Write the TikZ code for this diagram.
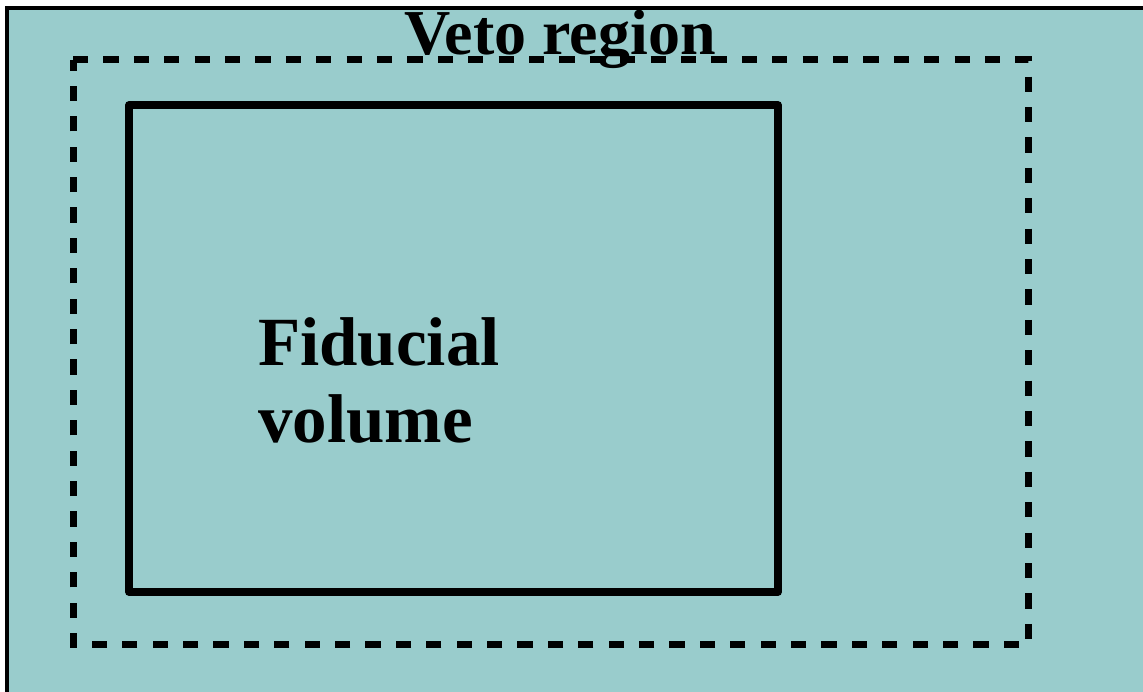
\documentclass[tikz,border=0pt]{standalone}
\usepackage{fontspec}
\setmainfont{Liberation Serif}
\definecolor{tank}{RGB}{153,204,204}
\tikzset{
  tankwall/.style={draw=black, line width=3.8pt, fill=tank},
  vetoline/.style={draw=black, line width=7pt, dash pattern=on 15.2pt off 15.2pt},
  fidline/.style={draw=black, line width=7.5pt, line join=round},
  bigtext/.style={inner sep=0pt, text=black, font=\bfseries\fontsize{69}{77}\selectfont, align=left},
  titletext/.style={inner sep=0pt, text=black, font=\bfseries\fontsize{64}{70}\selectfont}
}
\begin{document}
\begin{tikzpicture}[x=1pt, y=-1pt]
  \useasboundingbox (0,0) rectangle (1143,691);
  \clip (0,0) rectangle (1143,691);
  \fill[white] (0,0) rectangle (1143,691);
  % detector tank, running off the right and bottom edges
  \path[tankwall] (7,8) rectangle (1170,720);
  % veto boundary (dashed)
  \path[vetoline] (73,59.5) -- (1028.7,59.5) -- (1028.7,644.5) -- (73,644.5) -- cycle;
  % fiducial volume
  \path[fidline] (129,105) rectangle (778,592);
  \node[titletext, anchor=base] (veto) at (560,54) {Veto region};
  \node[bigtext, anchor=base west] (fid) at (258,442) {Fiducial\\volume};
\end{tikzpicture}
\end{document}
